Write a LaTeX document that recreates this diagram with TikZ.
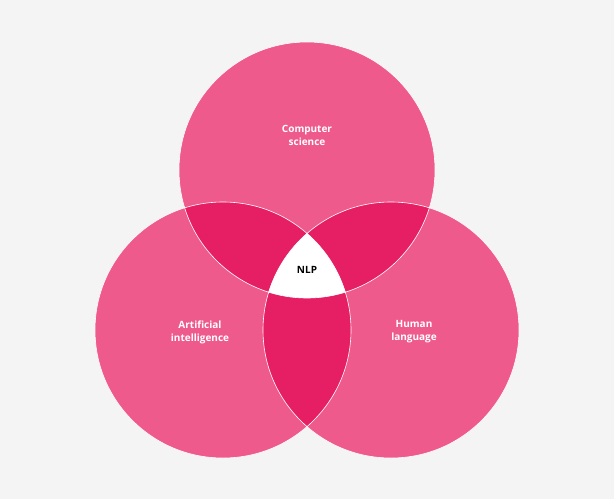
\documentclass[tikz,border=0pt]{standalone}
\usepackage{fontspec}
\setmainfont{Open Sans}
\begin{document}
\begin{tikzpicture}[x=1pt,y=-1pt,
  lbl/.style={font=\bfseries\fontsize{10}{13}\selectfont, text=white, align=center}]
\definecolor{bgc}{HTML}{F4F4F4}
\definecolor{pinkc}{HTML}{EF5A8C}
\definecolor{darkc}{HTML}{E61E64}
\fill[bgc] (0,0) rectangle (614,499);
\useasboundingbox (0,0) rectangle (614,499);
\def\R{128}
\coordinate (T) at (307,170);
\coordinate (L) at (223,330);
\coordinate (Rt) at (391,330);
\fill[pinkc] (T) circle (\R) (L) circle (\R) (Rt) circle (\R);
\begin{scope}\clip (T) circle (\R); \fill[darkc] (L) circle (\R); \fill[darkc] (Rt) circle (\R);\end{scope}
\begin{scope}\clip (L) circle (\R); \fill[darkc] (Rt) circle (\R);\end{scope}
\begin{scope}\clip (T) circle (\R); \clip (L) circle (\R); \fill[white] (Rt) circle (\R);\end{scope}
\draw[white, line width=0.6pt] (T) circle (\R) (L) circle (\R) (Rt) circle (\R);
\node[lbl] (cs) at (307,135) {Computer\\science};
\node[lbl] (ai) at (200,332) {Artificial\\intelligence};
\node[lbl] (hl) at (414,332) {Human\\language};
\node[lbl, text=black] (nlp) at (307,270) {NLP};
\end{tikzpicture}
\end{document}
